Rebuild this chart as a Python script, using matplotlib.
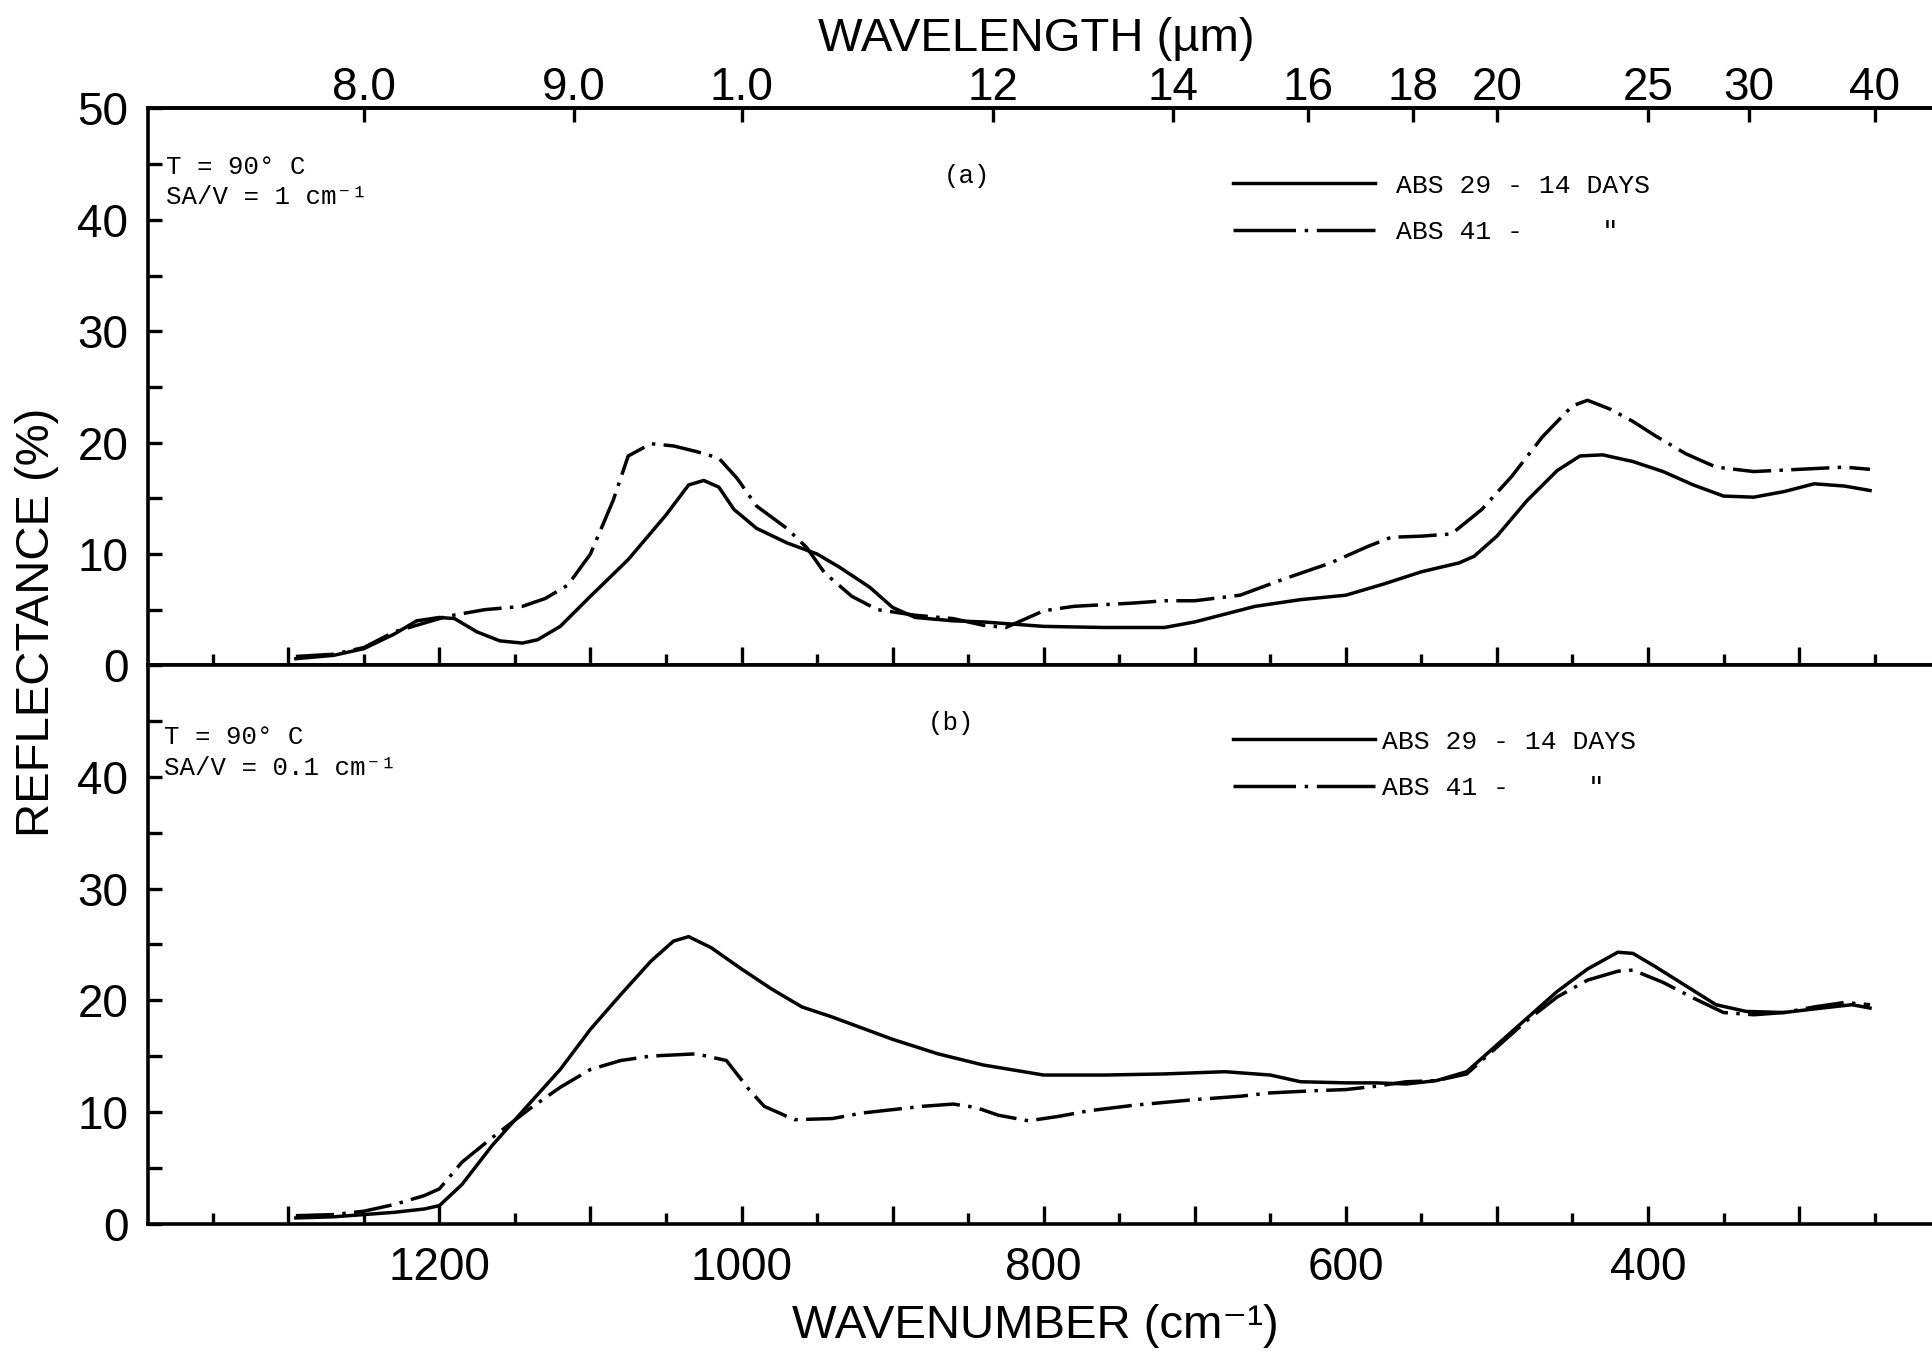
import matplotlib
matplotlib.use("Agg")
import matplotlib.pyplot as plt
from matplotlib.lines import Line2D
from matplotlib.ticker import MultipleLocator

SANS = ["Liberation Sans", "DejaVu Sans"]
MONO = ["Liberation Mono", "DejaVu Sans Mono"]

# panel (a): T = 90 C, SA/V = 1 cm-1
a_wn_29 = [1295, 1270, 1250, 1230, 1215, 1200, 1190, 1175, 1160, 1145, 1135, 1120, 1100,
           1075, 1050, 1035, 1025, 1015, 1005, 990, 970, 950, 935, 915, 900, 885, 860,
           840, 820, 800, 760, 720, 700, 680, 660, 630, 600, 575, 550, 525, 515, 500,
           480, 460, 445, 430, 410, 390, 370, 350, 330, 310, 290, 270, 253]
a_r_29 = [0.6, 0.9, 1.5, 2.8, 4.0, 4.3, 4.2, 3.0, 2.2, 2.0, 2.3, 3.5, 6.2,
          9.5, 13.5, 16.2, 16.6, 16.0, 14.0, 12.3, 11.0, 10.0, 8.8, 7.0, 5.2, 4.3, 4.0,
          3.9, 3.7, 3.5, 3.4, 3.4, 3.9, 4.6, 5.3, 5.9, 6.3, 7.3, 8.4, 9.2, 9.8, 11.6,
          14.8, 17.5, 18.8, 18.9, 18.3, 17.4, 16.2, 15.2, 15.1, 15.6, 16.3, 16.1, 15.7]
a_wn_41 = [1295, 1270, 1250, 1230, 1215, 1195, 1170, 1145, 1130, 1115, 1100, 1085, 1075,
           1060, 1045, 1030, 1015, 1003, 990, 970, 957, 945, 927, 910, 885, 860, 840,
           825, 800, 780, 740, 720, 700, 670, 640, 610, 585, 570, 550, 530, 510, 490,
           470, 450, 440, 425, 410, 395, 375, 355, 330, 300, 270, 253]
a_r_41 = [0.8, 1.0, 1.6, 3.0, 3.6, 4.4, 5.0, 5.3, 6.0, 7.2, 10.0, 14.8, 18.8,
          19.9, 19.7, 19.2, 18.6, 16.8, 14.3, 12.3, 10.6, 8.3, 6.2, 5.0, 4.5, 4.2, 3.6,
          3.4, 4.9, 5.3, 5.6, 5.8, 5.8, 6.3, 7.8, 9.2, 10.7, 11.5, 11.6, 11.8, 14.0, 17.0,
          20.5, 23.3, 23.8, 23.0, 21.9, 20.6, 19.0, 17.8, 17.4, 17.6, 17.8, 17.6]

# panel (b): T = 90 C, SA/V = 0.1 cm-1
b_wn_29 = [1295, 1270, 1250, 1230, 1210, 1200, 1185, 1165, 1140, 1120, 1100, 1080, 1060,
           1045, 1035, 1020, 1000, 980, 960, 940, 920, 900, 870, 840, 800, 760, 720,
           680, 650, 630, 600, 580, 560, 540, 520, 500, 480, 460, 440, 420, 410, 395,
           375, 355, 335, 310, 285, 265, 253]
b_r_29 = [0.5, 0.6, 0.8, 1.0, 1.3, 1.6, 3.5, 7.0, 10.8, 13.8, 17.4, 20.5, 23.5,
          25.3, 25.7, 24.7, 22.8, 21.0, 19.4, 18.5, 17.5, 16.5, 15.2, 14.2, 13.3, 13.3, 13.4,
          13.6, 13.3, 12.7, 12.6, 12.6, 12.5, 12.8, 13.6, 16.0, 18.4, 20.8, 22.8, 24.3, 24.2, 23.0,
          21.3, 19.6, 19.0, 18.9, 19.3, 19.6, 19.3]
b_wn_41 = [1295, 1270, 1250, 1230, 1210, 1200, 1185, 1165, 1140, 1120, 1100, 1080, 1060,
           1030, 1010, 995, 985, 965, 940, 920, 900, 880, 860, 845, 830, 810, 790,
           770, 740, 700, 670, 650, 620, 600, 580, 560, 540, 520, 500, 480, 460, 440,
           420, 410, 390, 370, 350, 330, 310, 290, 270, 253]
b_r_41 = [0.7, 0.8, 1.1, 1.7, 2.5, 3.1, 5.5, 7.7, 10.3, 12.2, 13.8, 14.6, 15.0,
          15.2, 14.6, 12.0, 10.5, 9.3, 9.4, 9.9, 10.2, 10.5, 10.7, 10.4, 9.7, 9.2, 9.6,
          10.1, 10.6, 11.1, 11.4, 11.7, 11.9, 12.0, 12.3, 12.7, 12.8, 13.4, 15.8, 18.2, 20.3, 21.8,
          22.6, 22.7, 21.6, 20.2, 18.9, 18.7, 18.9, 19.4, 19.8, 19.6]

wavelengths = [8, 9, 10, 12, 14, 16, 18, 20, 25, 30, 40]
wavelength_labels = ["8.0", "9.0", "1.0", "12", "14", "16", "18", "20", "25", "30", "40"]
wn_labelled = [1200, 1000, 800, 600, 400]
series_labels = ["ABS 29 - 14 DAYS", 'ABS 41 -     "']

LW = 2.5
DASHDOT = (0, (11, 2.4, 1.0, 2.4))
LEGEND_DASHDOT = (0, (18, 2.5, 1.0, 2.5))

fig = plt.figure(figsize=(19.32, 13.59), dpi=100)
ax_a = fig.add_axes([0.0765, 0.5104, 0.9235, 0.4098])
ax_b = fig.add_axes([0.0765, 0.0997, 0.9235, 0.4107])


def style_axis(ax, ylabels):
    ax.set_xlim(1393, 212)
    ax.set_ylim(0, 50)
    ax.spines["right"].set_visible(False)
    for s in ("left", "top", "bottom"):
        ax.spines[s].set_linewidth(2.6)
    ax.xaxis.set_major_locator(MultipleLocator(100))
    ax.xaxis.set_minor_locator(MultipleLocator(50))
    ax.yaxis.set_minor_locator(MultipleLocator(5))
    ax.tick_params(axis="x", which="major", direction="in", length=13, width=2.4,
                   top=False, labelbottom=False)
    ax.tick_params(axis="x", which="minor", direction="in", length=8, width=2.4, top=False)
    ax.tick_params(axis="y", which="both", direction="in", length=10, width=2.4,
                   right=False, pad=14, labelsize=33)
    ax.set_yticks([0, 10, 20, 30, 40, 50])
    ax.set_yticklabels(ylabels, family=SANS)


style_axis(ax_a, ["0", "10", "20", "30", "40", "50"])
style_axis(ax_b, ["0", "10", "20", "30", "40", ""])

ax_a.plot(a_wn_29, a_r_29, color="black", lw=LW)
ax_a.plot(a_wn_41, a_r_41, color="black", lw=LW, linestyle=DASHDOT)
ax_b.plot(b_wn_29, b_r_29, color="black", lw=LW)
ax_b.plot(b_wn_41, b_r_41, color="black", lw=LW, linestyle=DASHDOT)

# bottom wavenumber labels, every 200 cm-1
ax_b.tick_params(axis="x", labelbottom=True, labelsize=33, pad=16)
ax_b.set_xticks(ax_b.get_xticks())
ax_b.set_xticklabels([str(int(t)) if int(t) in wn_labelled else ""
                      for t in ax_b.get_xticks()], family=SANS)
ax_b.set_xlim(1393, 212)

# top wavelength axis
sec = ax_a.secondary_xaxis("top", functions=(lambda x: 10000.0 / x, lambda x: 10000.0 / x))
sec.set_xticks(wavelengths)
sec.set_xticklabels(wavelength_labels, family=SANS, fontsize=33)
sec.xaxis.set_minor_locator(plt.NullLocator())
sec.tick_params(axis="x", direction="in", length=10, width=2.4, pad=-1)
sec.spines["top"].set_linewidth(2.6)

fig.text(0.5365, 0.971, "WAVELENGTH (\u00b5m)", ha="center", va="center", fontsize=34, family=SANS)
fig.text(0.536, 0.024, "WAVENUMBER (cm\u207b\u00b9)", ha="center", va="center", fontsize=34, family=SANS)
fig.text(0.019, 0.542, "REFLECTANCE (%)", ha="center", va="center", rotation=90, fontsize=34,
         family=SANS)

# annotations
txt = dict(family=MONO, fontsize=18.5, color="black")
ax_a.text(0.0104, 0.894, "T = 90\u00b0 C", transform=ax_a.transAxes, va="center", **txt)
ax_a.text(0.0104, 0.841, "SA/V = 1 cm\u207b\u00b9", transform=ax_a.transAxes, va="center", **txt)
ax_a.text(0.459, 0.878, "(a)", transform=ax_a.transAxes, ha="center", va="center", **txt)
ax_b.text(0.009, 0.872, "T = 90\u00b0 C", transform=ax_b.transAxes, va="center", **txt)
ax_b.text(0.009, 0.817, "SA/V = 0.1 cm\u207b\u00b9", transform=ax_b.transAxes, va="center", **txt)
ax_b.text(0.450, 0.896, "(b)", transform=ax_b.transAxes, ha="center", va="center", **txt)

handles = [Line2D([], [], color="black", lw=LW),
           Line2D([], [], color="black", lw=LW, linestyle=LEGEND_DASHDOT)]
leg_kw = dict(loc="upper left", frameon=False, borderpad=0, borderaxespad=0,
              handlelength=5.4, labelspacing=0.85, prop={"family": MONO, "size": 19})
ax_a.legend(handles, series_labels, bbox_to_anchor=(0.608, 0.883), handletextpad=0.8, **leg_kw)
ax_b.legend(handles, series_labels, bbox_to_anchor=(0.608, 0.885), handletextpad=0.25, **leg_kw)

fig.savefig("out.png", dpi=100)
